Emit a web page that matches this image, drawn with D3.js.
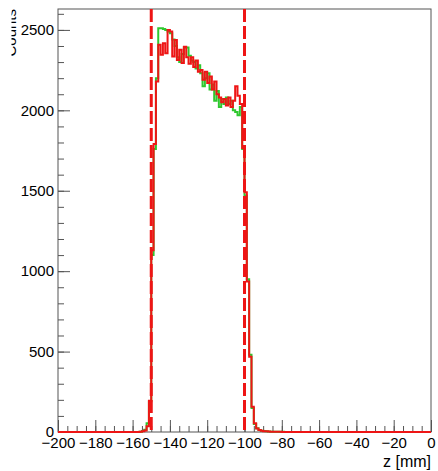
<!DOCTYPE html>
<html>
<head>
<meta charset="utf-8">
<script src="https://cdn.jsdelivr.net/npm/d3@7"></script>
<style>
  body { margin: 0; background: #fff; }
  svg { display: block; font-family: "Liberation Sans", Arial, sans-serif; }
</style>
</head>
<body>
<svg id="chart" width="438" height="471"></svg>
<script>
// histogram: 160 bins of 1.25 mm from -200 to 0
const zMin = -200;
const binWidth = 1.25;

const greenCounts = [
  0, 0, 0, 0, 0, 0, 0, 0, 0, 0, 0, 0, 0, 0, 0, 0, 0, 0, 0, 0,
  0, 0, 0, 0, 0, 0, 0, 0, 0, 0, 0, 0, 0, 0, 0, 2, 6, 14, 55, 190,
  1100, 1760, 2200, 2510, 2510, 2505, 2500, 2490, 2480, 2440, 2400, 2330, 2300, 2350, 2390, 2390, 2340, 2310, 2300, 2260,
  2280, 2230, 2150, 2200, 2230, 2130, 2160, 2060, 2120, 2020, 2070, 2040, 2080, 2040, 2060, 2000, 1990, 1970, 2020, 1760,
  1470, 950, 480, 150, 50, 24, 12, 8, 6, 4, 3, 2, 2, 1, 1, 0, 1, 0, 0, 0,
  0, 0, 0, 0, 0, 0, 0, 0, 0, 0, 0, 0, 0, 0, 0, 0, 0, 0, 0, 0,
  0, 0, 0, 0, 0, 0, 0, 0, 0, 0, 0, 0, 0, 0, 0, 0, 0, 0, 0, 0,
  0, 0, 0, 0, 0, 0, 0, 0, 0, 0, 0, 0, 0, 0, 0, 0, 0, 0, 0, 0
];

const redCounts = [
  0, 0, 0, 0, 0, 0, 0, 0, 0, 0, 0, 0, 0, 0, 0, 0, 0, 0, 0, 0,
  0, 0, 0, 0, 0, 0, 0, 0, 0, 0, 0, 0, 0, 0, 0, 1, 4, 10, 35, 195,
  1130, 1790, 2180, 2407, 2345, 2417, 2355, 2500, 2490, 2334, 2438, 2313, 2376, 2295, 2396, 2330, 2290, 2330, 2270, 2310,
  2240, 2250, 2190, 2240, 2170, 2210, 2130, 2180, 2100, 2080, 2050, 2070, 2030, 2080, 2020, 2060, 2150, 2090, 2040, 1766,
  1490, 935, 468, 157, 54, 22, 12, 8, 5, 4, 3, 2, 1, 1, 1, 1, 0, 0, 0, 0,
  0, 0, 0, 0, 0, 0, 0, 0, 0, 0, 0, 0, 0, 0, 0, 0, 0, 0, 0, 0,
  0, 0, 0, 0, 0, 0, 0, 0, 0, 0, 0, 0, 0, 0, 0, 0, 0, 0, 0, 0,
  0, 0, 0, 0, 0, 0, 0, 0, 0, 0, 0, 0, 0, 0, 0, 0, 0, 0, 0, 0
];

const xMajorTicks = [-200, -180, -160, -140, -120, -100, -80, -60, -40, -20, 0];
const yMajorTicks = [0, 500, 1000, 1500, 2000, 2500];
const cutLines = [-150, -100];

const xTitle = 'z [mm]';
const yTitle = 'Counts';

const svg = d3.select('#chart');
const frame = { left: 58, right: 431, top: 9, bottom: 432 };

const x = d3.scaleLinear().domain([-200, 0]).range([frame.left, frame.right]);
const y = d3.scaleLinear().domain([0, 2630]).range([frame.bottom, frame.top]);

const axisColor = '#555';
const labelSize = '15px';

// minor ticks first, majors on top
svg.append('g')
    .attr('transform', `translate(0,${frame.bottom})`)
    .call(d3.axisBottom(x).tickValues(d3.range(-200, 0.1, 5)).tickSizeInner(-6).tickSizeOuter(0).tickFormat(''))
    .call(g => g.select('.domain').remove())
    .call(g => g.selectAll('line').attr('stroke', axisColor));

svg.append('g')
    .attr('transform', `translate(0,${frame.bottom})`)
    .call(d3.axisBottom(x).tickValues(xMajorTicks).tickSizeInner(-12).tickSizeOuter(0).tickPadding(5))
    .call(g => g.select('.domain').remove())
    .call(g => g.selectAll('line').attr('stroke', axisColor))
    .call(g => g.selectAll('text').attr('font-size', labelSize).attr('fill', '#000')
        .attr('font-family', '"Liberation Sans", Arial, sans-serif'));

svg.append('g')
    .attr('transform', `translate(${frame.left},0)`)
    .call(d3.axisLeft(y).tickValues(d3.range(0, 2601, 100)).tickSizeInner(-6).tickSizeOuter(0).tickFormat(''))
    .call(g => g.select('.domain').remove())
    .call(g => g.selectAll('line').attr('stroke', axisColor));

svg.append('g')
    .attr('transform', `translate(${frame.left},0)`)
    .call(d3.axisLeft(y).tickValues(yMajorTicks).tickSizeInner(-12).tickSizeOuter(0).tickPadding(4).tickFormat(d3.format('d')))
    .call(g => g.select('.domain').remove())
    .call(g => g.selectAll('line').attr('stroke', axisColor))
    .call(g => g.selectAll('text').attr('font-size', labelSize).attr('fill', '#000')
        .attr('font-family', '"Liberation Sans", Arial, sans-serif'));

// frame
svg.append('rect')
    .attr('x', frame.left).attr('y', frame.top)
    .attr('width', frame.right - frame.left).attr('height', frame.bottom - frame.top)
    .attr('fill', 'none').attr('stroke', axisColor).attr('stroke-width', 1);

function histPath(counts) {
    const pts = [];
    counts.forEach((c, i) => {
        const z0 = zMin + i * binWidth;
        pts.push([x(z0), y(c)], [x(z0 + binWidth), y(c)]);
    });
    return d3.line()(pts);
}

svg.append('path').attr('d', histPath(greenCounts))
    .attr('fill', 'none').attr('stroke', '#2fc82f').attr('stroke-width', 2);
svg.append('path').attr('d', histPath(redCounts))
    .attr('fill', 'none').attr('stroke', '#ee1515').attr('stroke-width', 2);

// cut lines
svg.selectAll('line.cut').data(cutLines).join('line')
    .attr('class', 'cut')
    .attr('x1', d => x(d)).attr('x2', d => x(d))
    .attr('y1', frame.top).attr('y2', frame.bottom)
    .attr('stroke', '#ee1515').attr('stroke-width', 3)
    .attr('stroke-dasharray', '13,4');

// titles
svg.append('text')
    .attr('x', frame.right).attr('y', 467)
    .attr('text-anchor', 'end').attr('font-size', '16px')
    .text(xTitle);

// y title sits mostly outside the picture, only its edge shows
svg.append('clipPath').attr('id', 'ytitle-clip')
    .append('rect').attr('x', 11.5).attr('y', 0).attr('width', 10).attr('height', 80);
svg.append('g').attr('clip-path', 'url(#ytitle-clip)')
    .append('text')
    .attr('transform', `translate(15.5,${frame.top}) rotate(-90)`)
    .attr('text-anchor', 'end').attr('font-size', '15px')
    .text(yTitle);
</script>
</body>
</html>
